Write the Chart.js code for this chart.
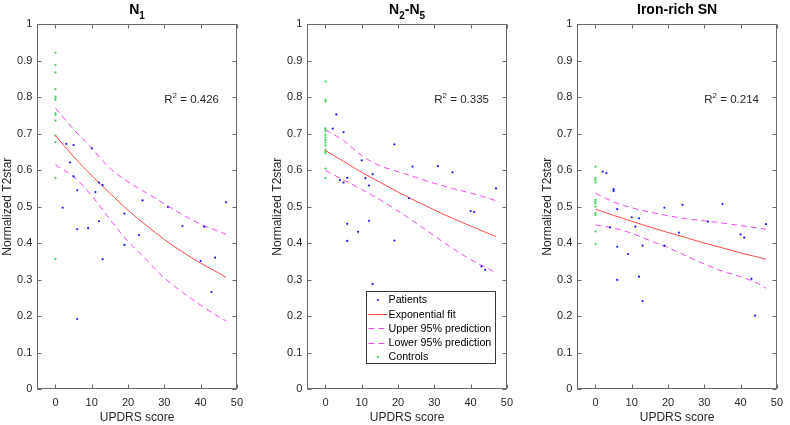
<!DOCTYPE html>
<html>
<head>
<meta charset="utf-8">
<script src="https://cdn.jsdelivr.net/npm/chart.js@4.4.1/dist/chart.umd.min.js"></script>
<style>
  html, body { margin: 0; padding: 0; background: #fff; }
  #wrap { position: relative; width: 790px; height: 425px; }
  .panel { position: absolute; top: 0; width: 250px; height: 425px; }
</style>
</head>
<body>
<div id="wrap">
  <div class="panel" style="left:0px"><canvas id="c1" width="250" height="425"></canvas></div>
  <div class="panel" style="left:270px"><canvas id="c2" width="250" height="425"></canvas></div>
  <div class="panel" style="left:540px"><canvas id="c3" width="250" height="425"></canvas></div>
</div>
<script>
/* ---------- data ---------- */
// UPDRS score of each patient (same patients in all three panels)
const UPDRS = [2, 3, 4, 5, 5, 6, 6, 6, 9, 10, 11, 12, 12, 13, 13, 19, 19, 23, 24, 31, 35, 40, 41, 43, 44, 47];

const N1_PAT  = [0.497, 0.672, 0.621, 0.669, 0.583, 0.545, 0.438, 0.192, 0.441, 0.660, 0.540, 0.566, 0.460,
                 0.559, 0.356, 0.481, 0.395, 0.422, 0.517, 0.499, 0.447, 0.351, 0.445, 0.266, 0.360, 0.512];
const N25_PAT = [0.714, 0.753, 0.573, 0.704, 0.566, 0.579, 0.453, 0.406, 0.431, 0.627, 0.578, 0.558, 0.461,
                 0.589, 0.288, 0.671, 0.407, 0.523, 0.610, 0.611, 0.594, 0.488, 0.485, 0.336, 0.327, 0.550];
const SN_PAT  = [0.596, 0.592, 0.443, 0.548, 0.543, 0.493, 0.390, 0.299, 0.370, 0.471, 0.445, 0.468, 0.308,
                 0.393, 0.241, 0.497, 0.393, 0.429, 0.505, 0.459, 0.507, 0.424, 0.415, 0.302, 0.201, 0.452];

// controls all sit at UPDRS 0
const N1_CTRL  = [0.922, 0.889, 0.868, 0.822, 0.802, 0.797, 0.793, 0.756, 0.752, 0.736, 0.695, 0.677, 0.578, 0.357];
const N25_CTRL = [0.843, 0.793, 0.788, 0.715, 0.711, 0.706, 0.697, 0.690, 0.683, 0.676, 0.668, 0.656, 0.651, 0.647, 0.604, 0.578];
const SN_CTRL  = [0.610, 0.578, 0.573, 0.566, 0.519, 0.514, 0.509, 0.500, 0.482, 0.477, 0.432, 0.397];

// fit and prediction bounds, read at these UPDRS values
const FIT_X    = [0, 5, 10, 15, 20, 25, 30, 35, 40, 45, 47];
const N1_FIT   = [0.695, 0.637, 0.585, 0.537, 0.490, 0.449, 0.410, 0.376, 0.345, 0.318, 0.306];
const N1_UP    = [0.770, 0.712, 0.660, 0.605, 0.568, 0.538, 0.508, 0.478, 0.452, 0.432, 0.424];
const N1_LO    = [0.615, 0.582, 0.530, 0.465, 0.405, 0.355, 0.305, 0.265, 0.230, 0.198, 0.187];
const N25_FIT  = [0.654, 0.624, 0.594, 0.567, 0.540, 0.515, 0.491, 0.468, 0.447, 0.426, 0.418];
const N25_UP   = [0.711, 0.681, 0.640, 0.612, 0.596, 0.580, 0.564, 0.550, 0.537, 0.523, 0.516];
const N25_LO   = [0.599, 0.573, 0.547, 0.519, 0.488, 0.455, 0.420, 0.386, 0.355, 0.329, 0.319];
const SN_FIT   = [0.493, 0.476, 0.460, 0.444, 0.429, 0.415, 0.400, 0.387, 0.373, 0.361, 0.356];
const SN_UP    = [0.537, 0.513, 0.497, 0.485, 0.475, 0.467, 0.461, 0.455, 0.448, 0.441, 0.438];
const SN_LO    = [0.450, 0.441, 0.427, 0.407, 0.388, 0.365, 0.343, 0.323, 0.308, 0.288, 0.276];

const R2_TEXT = ['0.426', '0.335', '0.214'];
const X_TICKS = [0, 10, 20, 30, 40, 50];
const X_LABELS = ['0', '10', '20', '30', '40', '50'];
const Y_TICKS = [0, 0.1, 0.2, 0.3, 0.4, 0.5, 0.6, 0.7, 0.8, 0.9, 1];
const Y_LABELS = ['0', '0.1', '0.2', '0.3', '0.4', '0.5', '0.6', '0.7', '0.8', '0.9', '1'];
const LEGEND_LABELS = ['Patients', 'Exponential fit', 'Upper 95% prediction', 'Lower 95% prediction', 'Controls'];
// title pieces: [text, isSubscript]
const TITLES = [
  [['N', 0], ['1', 1]],
  [['N', 0], ['2', 1], ['-N', 0], ['5', 1]],
  [['Iron-rich SN', 0]],
];

/* ---------- look ---------- */
const FONT = "'Liberation Sans', Arial, Helvetica, sans-serif";
const INK = '#262626';
const AXIS = '#6a6a6a';
const BLUE = '#1a1aff', GREEN = '#3ad857', RED = '#ff4a4a', MAGENTA = '#f04cf0';

Chart.defaults.font.family = FONT;
Chart.defaults.color = INK;

const pts = (xs, ys) => ys.map((y, i) => ({ x: xs[i], y }));
const ctrl = (ys) => ys.map((y) => ({ x: 0, y }));

/* ---------- box, inward ticks, title, R² ---------- */
const framePlugin = {
  id: 'frame',
  afterDraw(chart, args, o) {
    const { ctx, chartArea: a, scales: { x, y } } = chart;
    ctx.save();
    ctx.strokeStyle = AXIS;
    ctx.lineWidth = 1;
    const L = Math.round(a.left) + 0.5, R = Math.round(a.right) - 0.5;
    const T = Math.round(a.top) + 0.5, B = Math.round(a.bottom) - 0.5;
    ctx.strokeRect(L, T, R - L, B - T);
    ctx.beginPath();
    X_TICKS.forEach((v) => {
      const px = Math.round(x.getPixelForValue(v)) + 0.5;
      ctx.moveTo(px, B); ctx.lineTo(px, B - 4);
      ctx.moveTo(px, T); ctx.lineTo(px, T + 4);
    });
    Y_TICKS.forEach((v) => {
      const py = Math.round(y.getPixelForValue(v)) + 0.5;
      ctx.moveTo(L, py); ctx.lineTo(L + 4, py);
      ctx.moveTo(R, py); ctx.lineTo(R - 4, py);
    });
    ctx.stroke();

    // title with subscripts
    const big = 'bold 14px ' + FONT, small = 'bold 10px ' + FONT;
    let w = 0;
    o.title.forEach(([t, sub]) => { ctx.font = sub ? small : big; w += ctx.measureText(t).width; });
    let tx = (a.left + a.right) / 2 - w / 2;
    ctx.fillStyle = '#000';
    ctx.textBaseline = 'alphabetic';
    ctx.textAlign = 'left';
    o.title.forEach(([t, sub]) => {
      ctx.font = sub ? small : big;
      ctx.fillText(t, tx, sub ? 18.5 : 14);
      tx += ctx.measureText(t).width;
    });

    // R² annotation at (30, 0.8)
    let rx = x.getPixelForValue(30);
    const ry = y.getPixelForValue(0.8) + 5.5;
    ctx.fillStyle = INK;
    ctx.font = '11.5px ' + FONT;
    ctx.fillText('R', rx, ry); rx += ctx.measureText('R').width;
    ctx.font = '8px ' + FONT;
    ctx.fillText('2', rx, ry - 5); rx += ctx.measureText('2').width;
    ctx.font = '11.5px ' + FONT;
    ctx.fillText(' = ' + o.r2, rx, ry);
    ctx.restore();
  },
};

const legendPlugin = {
  id: 'boxLegend',
  afterDraw(chart, args, o) {
    if (!o.show) return;
    const { ctx, chartArea: a } = chart;
    const bx = Math.round(a.left + 59) + 0.5, by = 291.5, bw = 129, bh = 72;
    ctx.save();
    ctx.fillStyle = '#fff';
    ctx.fillRect(bx, by, bw, bh);
    ctx.strokeStyle = '#3a3a3a';
    ctx.lineWidth = 1;
    ctx.strokeRect(bx, by, bw, bh);
    ctx.font = '10.7px ' + FONT;
    ctx.textBaseline = 'middle';
    ctx.textAlign = 'left';
    chart.data.datasets.forEach((ds, i) => {
      const cy = by + 8.5 + i * 14.2;
      if (ds.showLine) {
        ctx.strokeStyle = ds.borderColor;
        ctx.setLineDash(ds.borderDash || []);
        ctx.beginPath();
        ctx.moveTo(bx + 2, Math.round(cy) + 0.5);
        ctx.lineTo(bx + 21, Math.round(cy) + 0.5);
        ctx.stroke();
        ctx.setLineDash([]);
      } else {
        ctx.fillStyle = ds.backgroundColor;
        ctx.beginPath();
        ctx.arc(bx + 11.5, cy, 1.1, 0, Math.PI * 2);
        ctx.fill();
      }
      ctx.fillStyle = '#000';
      ctx.fillText(ds.label, bx + 22, cy + 0.5);
    });
    ctx.restore();
  },
};

function makePanel(id, pat, ctl, fit, up, lo, idx) {
  const lineDs = (label, data, color, dash) => ({
    label, data: pts(FIT_X, data), showLine: true, borderColor: color, backgroundColor: color,
    borderWidth: 1, borderDash: dash, pointRadius: 0, cubicInterpolationMode: 'monotone',
  });
  return new Chart(document.getElementById(id), {
    type: 'scatter',
    data: {
      datasets: [
        { label: LEGEND_LABELS[0], data: pts(UPDRS, pat), backgroundColor: BLUE, borderColor: BLUE,
          pointRadius: 1.1, borderWidth: 0 },
        lineDs(LEGEND_LABELS[1], fit, RED, []),
        lineDs(LEGEND_LABELS[2], up, MAGENTA, [6, 4]),
        lineDs(LEGEND_LABELS[3], lo, MAGENTA, [6, 4]),
        { label: LEGEND_LABELS[4], data: ctrl(ctl), backgroundColor: GREEN, borderColor: GREEN,
          pointRadius: 1.1, borderWidth: 0 },
      ],
    },
    options: {
      responsive: false,
      animation: false,
      events: [],
      layout: { padding: { top: 24.3, right: 8, left: 0, bottom: 0 } },
      plugins: {
        legend: { display: false },
        tooltip: { enabled: false },
        frame: { title: TITLES[idx], r2: R2_TEXT[idx] },
        boxLegend: { show: idx === 1 },
      },
      scales: {
        x: {
          type: 'linear', min: -5, max: 50,
          afterBuildTicks: (s) => { s.ticks = X_TICKS.map((v) => ({ value: v })); },
          afterFit: (s) => { s.height = 36; },
          grid: { display: false, drawTicks: false },
          border: { display: false },
          ticks: { font: { size: 11 }, color: INK, padding: 7, maxRotation: 0, autoSkip: false,
                   callback: (v, i) => X_LABELS[i] },
          title: { display: true, text: 'UPDRS score', font: { size: 12 }, color: INK, padding: 0 },
        },
        y: {
          type: 'linear', min: 0, max: 1,
          afterBuildTicks: (s) => { s.ticks = Y_TICKS.map((v) => ({ value: v })); },
          afterFit: (s) => { s.width = 37.3; },
          grid: { display: false, drawTicks: false },
          border: { display: false },
          ticks: { font: { size: 11 }, color: INK, padding: 5, autoSkip: false,
                   callback: (v, i) => Y_LABELS[i] },
          title: { display: true, text: 'Normalized T2star', font: { size: 12 }, color: INK, padding: 0 },
        },
      },
    },
    plugins: [framePlugin, legendPlugin],
  });
}

makePanel('c1', N1_PAT, N1_CTRL, N1_FIT, N1_UP, N1_LO, 0);
makePanel('c2', N25_PAT, N25_CTRL, N25_FIT, N25_UP, N25_LO, 1);
makePanel('c3', SN_PAT, SN_CTRL, SN_FIT, SN_UP, SN_LO, 2);
</script>
</body>
</html>
